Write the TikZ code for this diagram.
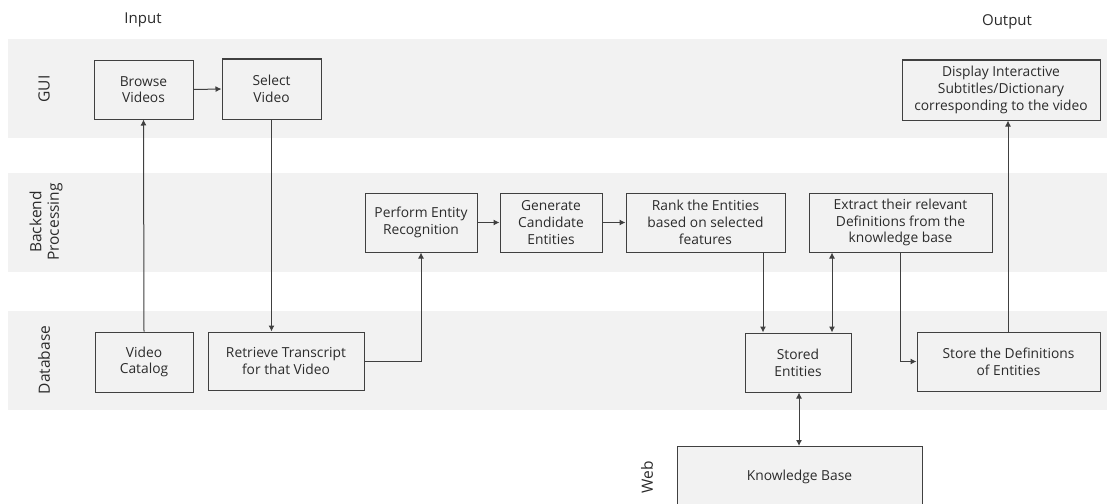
\documentclass[tikz,border=0pt]{standalone}
\usepackage{fontspec}
\setmainfont{Open Sans}
\usetikzlibrary{arrows.meta}
\definecolor{band}{HTML}{F2F2F2}
\definecolor{ink}{HTML}{2B2B2B}
\definecolor{line}{HTML}{404040}
\begin{document}
\begin{tikzpicture}[x=1pt,y=-1pt,
  every node/.style={text=ink,font=\fontsize{13.8}{16.7}\selectfont},
  box/.style={draw=line,line width=1pt,fill=band,align=center,inner sep=1pt},
  arr/.style={draw=line,line width=1pt,-{Latex[length=6pt,width=6pt]}},
  darr/.style={draw=line,line width=1pt,{Latex[length=6pt,width=6pt]}-{Latex[length=6pt,width=6pt]}},
  lane/.style={rotate=90,align=center,font=\fontsize{15.5}{17.5}\selectfont},
  head/.style={font=\fontsize{15}{18}\selectfont}]
\clip (0,0) rectangle (1107,503);
\fill[white] (0,0) rectangle (1107,503);
% bands
\fill[band] (8,39) rectangle (1107,138);
\fill[band] (8,173) rectangle (1107,272);
\fill[band] (8,311) rectangle (1107,410);
% headers
\node[head] (input) at (143,20) {Input};
\node[head] (output) at (1007,22) {Output};
% lane labels
\node[lane] (lgui) at (44,89) {GUI};
\node[lane] (lback) at (46,222) {Backend\\Processing};
\node[lane] (ldb) at (44,360) {Database};
\node[lane] (lweb) at (647,477) {Web};
% boxes
\node[box,minimum width=99pt,minimum height=59pt] (browse) at (143.5,89.5) {Browse\\Videos};
\node[box,minimum width=99pt,minimum height=60pt] (select) at (271.5,89) {Select\\Video};
\node[box,minimum width=98pt,minimum height=60pt] (catalog) at (144,362) {Video\\Catalog};
\node[box,minimum width=156pt,minimum height=58pt] (retrieve) at (286,361) {Retrieve Transcript\\for that Video};
\node[box,minimum width=112pt,minimum height=59pt] (perform) at (421,222.5) {Perform Entity\\Recognition};
\node[box,minimum width=102pt,minimum height=59pt] (generate) at (551,222.5) {Generate\\Candidate\\Entities};
\node[box,minimum width=159pt,minimum height=59pt] (rank) at (705.5,222.5) {Rank the Entities\\based on selected\\features};
\node[box,minimum width=183pt,minimum height=59pt] (extract) at (900.5,222.5) {Extract their relevant\\Definitions from the\\knowledge base};
\node[box,minimum width=198pt,minimum height=60pt] (display) at (1001,90) {Display Interactive\\Subtitles/Dictionary\\corresponding to the video};
\node[box,minimum width=106pt,minimum height=59pt] (stored) at (798,362.5) {Stored\\Entities};
\node[box,minimum width=183pt,minimum height=59pt] (storedef) at (1008.5,361.5) {Store the Definitions\\of Entities};
\node[box,minimum width=245pt,minimum height=80pt,anchor=north] (kb) at (799.5,446) {};
\node (kbt) at (799.5,477) {Knowledge Base};
% connectors
\coordinate (xa) at (763,0);
\coordinate (xb) at (832,0);
\coordinate (xc) at (900,0);
\coordinate (xd) at (1008,0);
\coordinate (xe) at (799,0);
\draw[arr] (catalog.north) -- (browse.south);
\draw[arr] (browse.east) -- (select.west);
\draw[arr] (select.south) -- (retrieve.north -| select.south);
\draw[arr] (retrieve.east) -| (perform.south);
\draw[arr] (perform.east) -- (generate.west);
\draw[arr] (generate.east) -- (rank.west);
\draw[arr] (rank.south -| xa) -- (stored.north -| xa);
\draw[darr] (extract.south -| xb) -- (stored.north -| xb);
\draw[arr] (extract.south -| xc) |- (storedef.west);
\draw[arr] (storedef.north -| xd) -- (display.south -| xd);
\draw[darr] (stored.south -| xe) -- (kb.north -| xe);
\end{tikzpicture}
\end{document}
